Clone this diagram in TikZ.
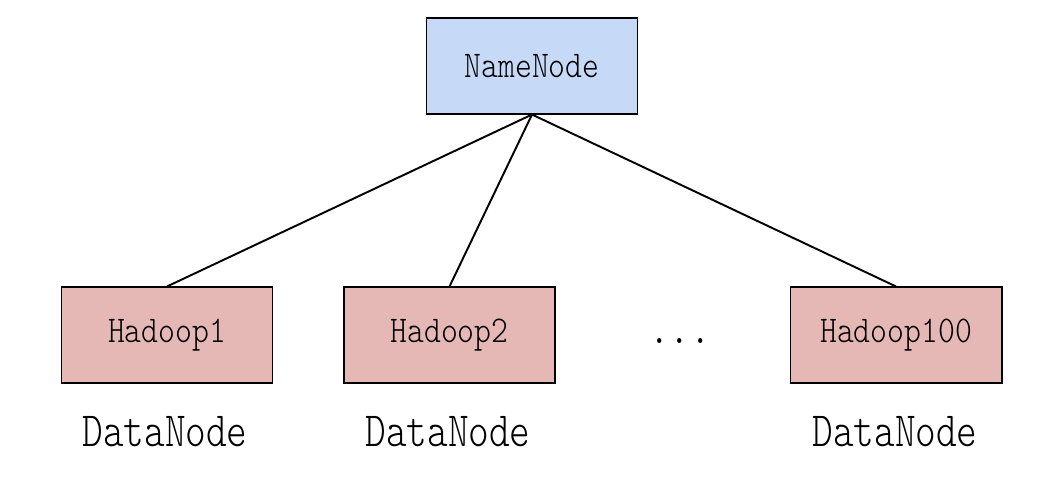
\documentclass[tikz,border=0pt]{standalone}
\usepackage{fontspec}
\newfontfamily\cajafont{Latin Modern Mono Light}[FakeStretch=0.85]
\newfontfamily\rotulofont{Latin Modern Mono Light}[FakeStretch=0.8]
\definecolor{azul}{RGB}{198,218,248}
\definecolor{rosa}{RGB}{229,184,182}

\begin{document}
\begin{tikzpicture}[x=0.02cm,y=-0.02cm,
    caja/.style={draw, line width=0.6pt, minimum width=4.22cm, minimum height=1.92cm,
        inner sep=0pt, font=\cajafont\fontsize{21.5}{24}\selectfont},
    rotulo/.style={inner sep=0pt, font=\rotulofont\fontsize{28}{32}\selectfont},
    linea/.style={line width=1.1pt}]
    \useasboundingbox (0,0) rectangle (1064,481);

    % Nodo principal
    \node[caja, fill=azul] (nn) at (532,66) {NameNode};

    % Nodos de datos
    \node[caja, fill=rosa] (h1) at (167,335) {Hadoop1};
    \node[caja, fill=rosa] (h2) at (449.5,335) {Hadoop2};
    \node[caja, fill=rosa, minimum width=4.24cm] (h100) at (896,335) {Hadoop100};
    \node[font=\cajafont\fontsize{26}{28}\selectfont] (puntos) at (680,341) {...};

    % Etiquetas
    \node[rotulo] (d1) at (165,432) {DataNode};
    \node[rotulo] (d2) at (448,432) {DataNode};
    \node[rotulo] (d100) at (895,432) {DataNode};

    % Conexiones
    \foreach \n in {h1,h2,h100}
        \draw[linea] (nn.south) -- (\n.north);

\end{tikzpicture}
\end{document}
